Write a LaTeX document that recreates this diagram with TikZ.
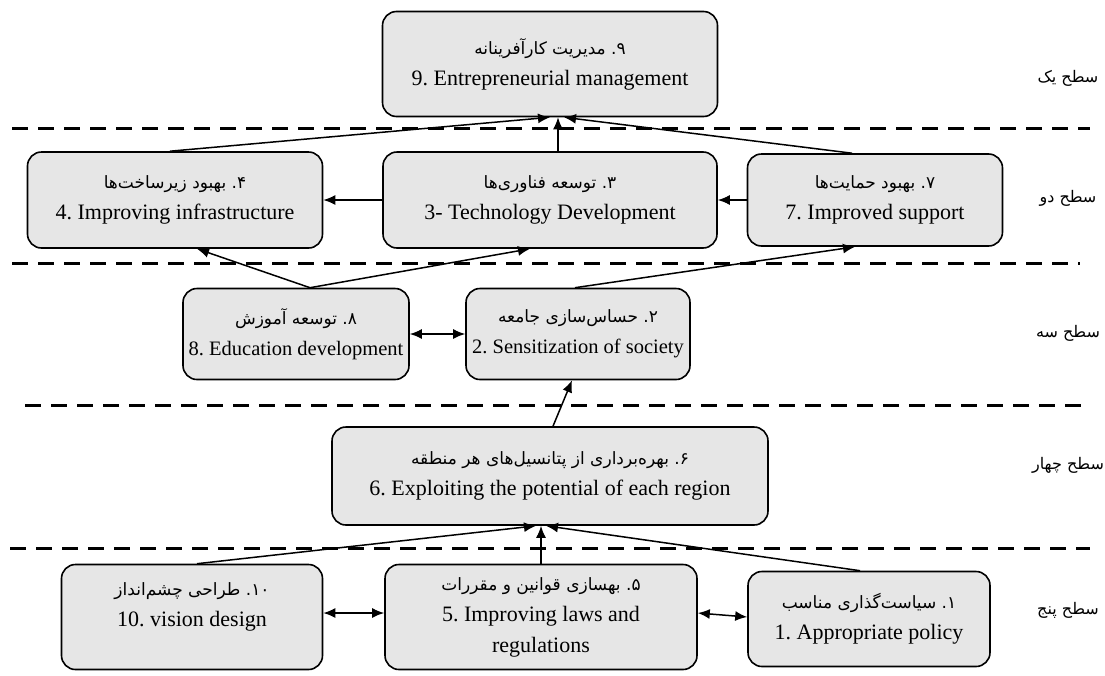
\documentclass[tikz,border=0pt]{standalone}
\usepackage{fontspec}
\setmainfont{Liberation Serif}
\newfontfamily\farsi[Script=Arabic]{DejaVu Sans}
\TeXXeTstate=1
\usepackage{tikz}
\usetikzlibrary{arrows.meta,positioning}
\definecolor{boxgray}{HTML}{E6E6E6}
\newcommand{\fa}[1]{{\farsi\fontsize{17}{31}\selectfont\beginR #1\endR}}
\frenchspacing

\begin{document}
\begin{tikzpicture}[x=1pt,y=-1pt,
    box/.style={draw,line width=1.6pt,fill=boxgray,rounded corners=14pt,
      align=center,inner sep=0pt,font=\fontsize{22}{31}\selectfont},
    small/.style={font=\fontsize{20.5}{31}\selectfont},
    level/.style={font=\farsi\fontsize{16}{18}\selectfont},
    sep/.style={line width=3pt,dash pattern=on 16pt off 10pt},
    arr/.style={-{Latex[length=12pt,width=10pt]},line width=1.5pt},
    biarr/.style={{Latex[length=12pt,width=10pt]}-{Latex[length=12pt,width=10pt]},line width=1.5pt}]
  \useasboundingbox (0,0) rectangle (1105,675);
  % level separators
  \draw[sep] (12,128) -- (1090,128);
  \draw[sep] (12,263) -- (1080,263);
  \draw[sep] (25,405) -- (1090,405);
  \draw[sep] (10,548) -- (1090,548);
  % levels
  \node[level] (L1) at (1068,78) {\beginR سطح یک\endR};
  \node[level] (L2) at (1068,198) {\beginR سطح دو\endR};
  \node[level] (L3) at (1068,333) {\beginR سطح سه\endR};
  \node[level] (L4) at (1068,465) {\beginR سطح چهار\endR};
  \node[level] (L5) at (1068,610) {\beginR سطح پنج\endR};
  % boxes
  \node[box,minimum width=335pt,minimum height=105pt] (n9) at (550,64)
    {\fa{۹\kern0pt.\ مدیریت کارآفرینانه}\\9. Entrepreneurial management};
  \node[box,minimum width=295pt,minimum height=96pt] (n4) at (175,200)
    {\fa{۴\kern0pt.\ بهبود زیرساخت‌ها}\\4. Improving infrastructure};
  \node[box,minimum width=334pt,minimum height=96pt] (n3) at (550,200)
    {\fa{۳\kern0pt.\ توسعه فناوری‌ها}\\3- Technology Development};
  \node[box,minimum width=255pt,minimum height=92pt] (n7) at (875,200)
    {\fa{۷\kern0pt.\ بهبود حمایت‌ها}\\7. Improved support};
  \node[box,small,minimum width=226pt,minimum height=91pt] (n8) at (296,334)
    {\fa{۸\kern0pt.\ توسعه آموزش}\\8. Education development};
  \node[box,small,minimum width=224pt,minimum height=91pt] (n2) at (578,334)
    {\fa{۲\kern0pt.\ حساس‌سازی جامعه}\\2. Sensitization of society};
  \node[box,minimum width=436pt,minimum height=98pt] (n6) at (550,476)
    {\fa{۶\kern0pt.\ بهره‌برداری از پتانسیل‌های هر منطقه}\\6. Exploiting the potential of each region};
  \node[box,minimum width=261pt,minimum height=105pt] (n10) at (192,617)
    {\fa{۱۰\kern0pt.\ طراحی چشم‌انداز}\\10. vision design\\[-15pt]\strut};
  \node[box,minimum width=312pt,minimum height=105pt] (n5) at (541,617)
    {\fa{۵\kern0pt.\ بهسازی قوانین و مقررات}\\5. Improving laws and\\regulations};
  \node[box,minimum width=242pt,minimum height=95pt] (n1) at (869,619)
    {\fa{۱\kern0pt.\ سیاست‌گذاری مناسب}\\1. Appropriate policy};
  % links
  \draw[arr] ([xshift=-5pt]n4.north) -- ([xshift=0pt]n9.south);
  \draw[arr] ([xshift=8pt]n3.north) -- ([xshift=8pt]n9.south);
  \draw[arr] ([xshift=-23pt]n7.north) -- ([xshift=14pt]n9.south);
  \draw[arr] (n3.west) -- (n4.east);
  \draw[arr] (n7.west) -- (n3.east);
  \draw[arr] ([xshift=14pt]n8.north) -- ([xshift=22pt]n4.south);
  \draw[arr] ([xshift=14pt]n8.north) -- ([xshift=-20pt]n3.south);
  \draw[arr] ([xshift=-3pt]n2.north) -- ([xshift=-20pt]n7.south);
  \draw[biarr] (n8.east) -- (n2.west);
  \draw[arr] ([xshift=3pt]n6.north) -- ([xshift=-6pt]n2.south);
  \draw[arr] ([xshift=5pt]n10.north) -- ([xshift=-14pt]n6.south);
  \draw[arr] (n5.north) -- ([xshift=-9pt]n6.south);
  \draw[arr] ([xshift=-9pt]n1.north) -- ([xshift=-4pt]n6.south);
  \draw[biarr] ([yshift=4pt]n10.east) -- ([yshift=4pt]n5.west);
  \draw[biarr] ([yshift=4pt]n5.east) -- ([yshift=2pt]n1.west);
\end{tikzpicture}
\end{document}
